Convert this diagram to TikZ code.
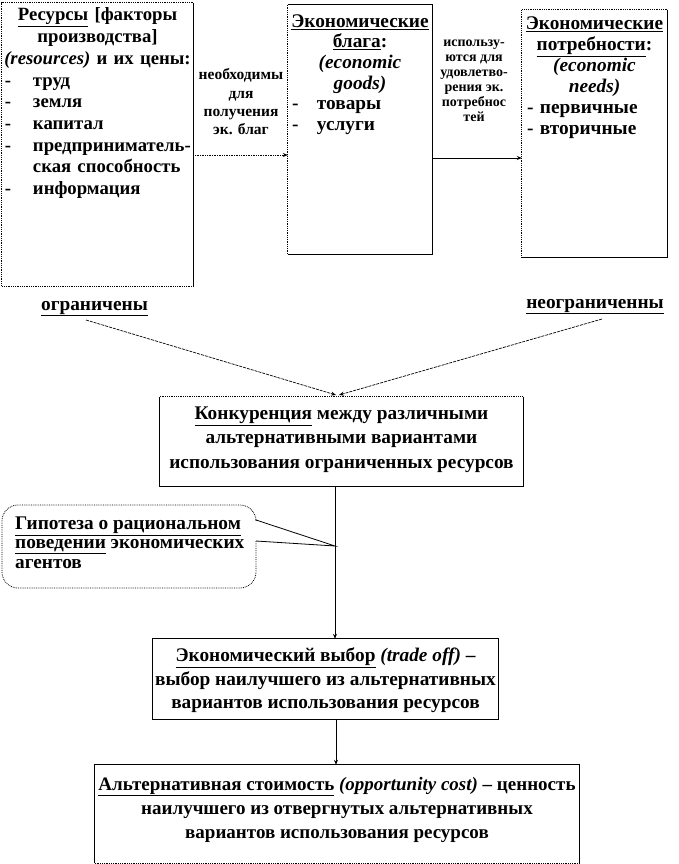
\documentclass[tikz,border=0pt]{standalone}
\usepackage{fontspec}
\setmainfont{Liberation Serif}
\usetikzlibrary{arrows.meta}
\begin{document}
\begin{tikzpicture}[x=1pt,y=-1pt,
  boxn/.style={inner sep=0pt, draw=none},
  solidb/.style={line width=0.8pt, black},
  dotb/.style={line width=0.8pt, densely dotted, black},
  arr/.style={line width=0.7pt, -{Stealth[length=5pt,width=4pt]}},
  fmain/.style={inner sep=0pt, font=\fontsize{19.3}{21.7}\selectfont\bfseries},
]
\useasboundingbox (0,0) rectangle (678,864);
% boxes
\node[boxn, minimum width=191pt, minimum height=283pt] (b1) at (97.5,144.5) {};
\node[boxn, minimum width=144pt, minimum height=249pt] (b2) at (360,129.5) {};
\node[boxn, minimum width=145pt, minimum height=247pt] (b3) at (594.5,133.5) {};
\node[boxn, minimum width=363pt, minimum height=89pt] (b4) at (341.5,441.5) {};
\node[boxn, minimum width=345pt, minimum height=80pt] (b6) at (325.5,679) {};
\node[boxn, minimum width=484pt, minimum height=98pt] (b7) at (337,814) {};
% borders
\draw[dotb] (b1.north east) -- (b1.north west) -- (b1.south west) -- (b1.south east);
\draw[solidb] (b1.north east) -- (b1.south east);
\draw[dotb] (b2.north west) -- (b2.south west);
\draw[solidb] (b2.north west) -- (b2.north east) -- (b2.south east) -- (b2.south west);
\draw[dotb] (b3.north east) -- (b3.north west) -- (b3.south west);
\draw[solidb] (b3.north east) -- (b3.south east) -- (b3.south west);
\draw[dotb] (b4.north west) -- (b4.north east);
\draw[solidb] (b4.north east) -- (b4.south east) -- (b4.south west) -- (b4.north west);
\draw[solidb] (b6.north west) rectangle (b6.south east);
\draw[solidb] (b7.south west) -- (b7.north west) -- (b7.north east) -- (b7.south east);
\draw[dotb] (b7.south west) -- (b7.south east);
% callout
\coordinate (tip) at (335,546);
\draw[dotb, rounded corners=16pt] (256,541) -- (256,588) -- (2,588) -- (2,505) -- (256,505) -- (256,520);
\draw[solidb] (256,520) -- (tip) -- (256,541);
% texts
\node[fmain, font=\fontsize{18.7}{21.7}\selectfont\bfseries, anchor=north, text width=185pt, align=center] (t1) at (97.5,7.8) {%
\underline{Ресурсы} [факторы\\производства]\\\makebox[185pt][c]{\textit{(resources)}\ и их цены:}\\
\makebox[185pt][l]{\makebox[28pt][l]{-}труд}\\
\makebox[185pt][l]{\makebox[28pt][l]{-}земля}\\
\makebox[185pt][l]{\makebox[28pt][l]{-}капитал}\\
\makebox[185pt][l]{\makebox[28pt][l]{-}предприниматель-}\\
\makebox[185pt][l]{\hspace{28pt}ская способность}\\
\makebox[185pt][l]{\makebox[28pt][l]{-}информация}};
\node[fmain, font=\fontsize{19.3}{20.6}\selectfont\bfseries, anchor=north, text width=140pt, align=center] (t2) at (360,14.3) {%
\underline{Экономические}\\\underline{блага}:\\\textit{(economic}\\\textit{goods)}\\
\makebox[140pt][l]{\hspace{2pt}\makebox[25pt][l]{-}товары}\\
\makebox[140pt][l]{\hspace{2pt}\makebox[25pt][l]{-}услуги}};
\node[fmain, font=\fontsize{19.3}{21}\selectfont\bfseries, anchor=north, text width=143pt, align=center] (t3) at (594.5,16.5) {%
\underline{Экономические}\\\underline{потребности}:\\\textit{(economic}\\\textit{needs)}\\
\makebox[143pt][l]{\hspace{4pt}\makebox[13pt][l]{-}первичные}\\
\makebox[143pt][l]{\hspace{4pt}\makebox[13pt][l]{-}вторичные}};
\node[inner sep=0pt, font=\fontsize{15.5}{18.3}\selectfont\bfseries, anchor=north, align=center] (l1) at (241,68.5) {необходимы\\для\\получения\\эк. благ};
\node[inner sep=0pt, font=\fontsize{14}{15}\selectfont\bfseries, anchor=north, align=center] (l2) at (474,40) {использу-\\ются для\\удовлетво-\\рения эк.\\потребнос\\тей};
\node[fmain, anchor=base west] (lim) at (41,310) {\underline{ограничены}};
\node[fmain, anchor=base east] (unl) at (664,308) {\underline{неограниченны}};
\node[fmain, font=\fontsize{19.3}{24.5}\selectfont\bfseries, anchor=north, align=center] (t4) at (341.5,406.5) {%
\underline{Конкуренция} между различными\\альтернативными вариантами\\использования ограниченных ресурсов};
\node[fmain, font=\fontsize{19.3}{19.5}\selectfont\bfseries, anchor=north west, align=left] (t5) at (15,516.5) {%
\underline{Гипотеза о рациональном}\\\underline{поведении} экономических\\агентов};
\node[fmain, font=\fontsize{19.3}{23.5}\selectfont\bfseries, anchor=north, align=center] (t6) at (325.5,647.8) {%
\underline{Экономический выбор} \textit{(trade off)} –\\выбор наилучшего из альтернативных\\вариантов использования ресурсов};
\node[fmain, font=\fontsize{19}{24}\selectfont\bfseries, anchor=north, align=center] (t7) at (337,776.8) {%
\underline{Альтернативная стоимость} \textit{(opportunity cost)} – ценность\\наилучшего из отвергнутых альтернативных\\вариантов использования ресурсов};
% connectors
\coordinate (a1) at (0,155);
\coordinate (a2) at (0,158);
\draw[arr, densely dotted] (a1 -| b1.east) -- (a1 -| b2.west);
\draw[arr] (a2 -| b2.east) -- (a2 -| b3.west);
\coordinate (ls) at (86,320);
\coordinate (rs) at (602,319);
\coordinate (m4l) at (336,395);
\coordinate (m4r) at (339,395);
\draw[arr, dash pattern=on 3pt off 1pt] (ls) -- (m4l);
\draw[arr, dash pattern=on 3pt off 1pt] (rs) -- (m4r);
\draw[arr] (tip |- b4.south) -- (tip |- b6.north);
\coordinate (ax) at (336,0);
\draw[arr] (ax |- b6.south) -- (ax |- b7.north);
\end{tikzpicture}
\end{document}
